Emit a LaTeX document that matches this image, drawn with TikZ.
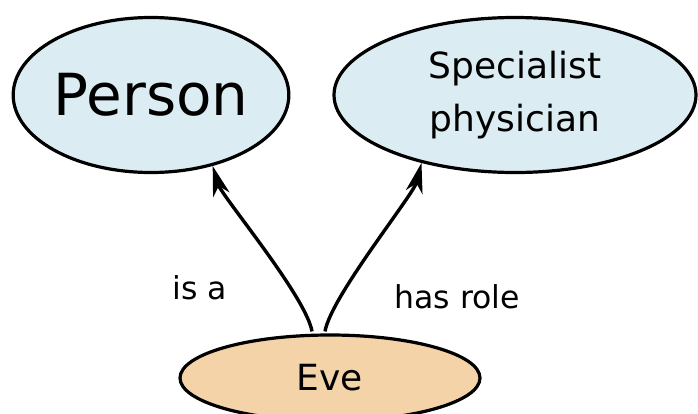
\documentclass[tikz,border=0pt]{standalone}
\usepackage{fontspec}
\setmainfont{DejaVu Sans}
\usetikzlibrary{shapes.geometric,arrows.meta,calc}
\definecolor{classfill}{RGB}{219,237,243}
\definecolor{indivfill}{RGB}{244,211,168}
\tikzset{
  concept/.style={ellipse, draw=black, line width=3.2pt, inner sep=0pt, align=center},
  relation/.style={line width=3.4pt, -{Stealth[length=30pt,width=17pt,inset=9pt]}},
  rellabel/.style={font=\fontsize{31.5}{37}\selectfont, inner sep=0pt}
}
\begin{document}
\begin{tikzpicture}[x=1pt,y=-1pt]
  \clip (0,0) rectangle (698,413);
  \fill[white] (0,0) rectangle (698,413);

  \node[concept, fill=classfill, minimum width=272pt, minimum height=155pt,
        font=\fontsize{58}{66}\selectfont] (person) at (151,95) {Person};
  \node[concept, fill=classfill, minimum width=362pt, minimum height=155pt,
        font=\fontsize{36}{53}\selectfont] (spec) at (515,95) {Specialist\\physician};
  \node[concept, fill=indivfill, minimum width=300pt, minimum height=86pt,
        font=\fontsize{36}{42}\selectfont] (eve) at (330,378) {Eve};

  \coordinate (eveL) at ($(eve.north)+(-18,-2)$);
  \coordinate (eveR) at ($(eve.north)+(-5,-2)$);

  \draw[relation] (eveL) .. controls +(-6,-35) and +(9,30) .. (person.-49);
  \draw[relation] (eveR) .. controls +(6,-35) and +(-8,32) .. (spec.-144);

  \node[rellabel] (isa) at (200,288) {is a};
  \node[rellabel] (hasrole) at (457,297) {has role};
\end{tikzpicture}
\end{document}
